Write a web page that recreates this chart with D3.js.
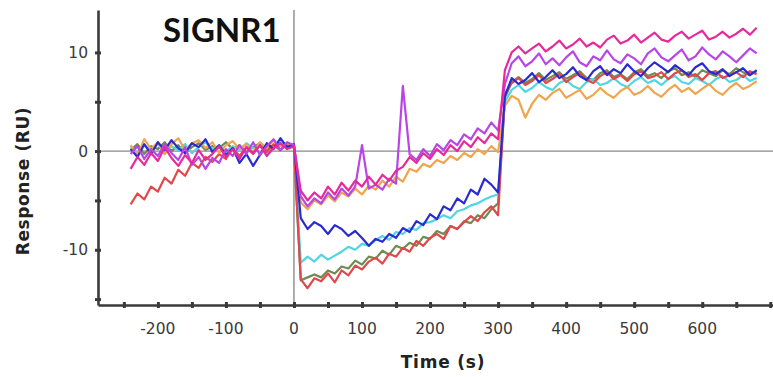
<!DOCTYPE html>
<html>
<head>
<meta charset="utf-8">
<script src="https://cdn.jsdelivr.net/npm/d3@7"></script>
<style>
  html, body { margin: 0; padding: 0; background: #fff; }
  svg { display: block; }
</style>
</head>
<body>
<svg id="chart" width="773" height="377"></svg>
<script>
// Sensorgram time base: -240 s to 680 s, every 10 s
const times = d3.range(-240, 681, 10);

// Response (RU) per curve: baseline (-240..0), association (10..300), dissociation (310..680)
const redBase = [-5.4, -4.3, -4.9, -3.6, -4.1, -2.7, -3.3, -1.9, -2.5, -1.2, -1.7, -0.6, -1.1, -0.3, -0.8, 0.3, -0.5, 0.4, -0.3, 0.6, -0.1, 0.7, 0.1, 0.8, 0.4];
const redAssoc = [-13.0, -13.9, -12.9, -13.2, -12.4, -13.3, -12.1, -12.6, -11.6, -12.0, -11.2, -10.8, -11.4, -10.4, -10.7, -9.8, -10.2, -9.1, -9.6, -8.8, -8.4, -8.9, -7.6, -7.9, -7.2, -6.6, -7.1, -6.2, -5.6, -6.5];
const redDiss = [5.8, 6.9, 7.4, 6.7, 7.1, 7.7, 6.9, 7.3, 7.8, 7.0, 7.5, 7.9, 7.2, 6.9, 7.6, 8.0, 7.3, 7.7, 7.1, 7.8, 8.1, 7.4, 7.6, 8.0, 7.3, 7.9, 8.2, 7.5, 7.8, 7.2, 7.9, 8.1, 7.4, 7.7, 8.0, 7.5, 8.1, 7.8];

const orangeBase = [0.6, -0.4, 1.2, 0.2, 0.9, -0.3, 0.7, 1.3, 0.1, 0.8, 1.1, 0.3, 0.9, -0.2, 0.6, 1.0, 0.2, 0.7, -0.1, 0.9, 0.3, 1.1, 0.5, 0.8, 0.6];
const orangeAssoc = [-5.2, -5.9, -5.0, -5.4, -4.5, -5.1, -4.2, -4.6, -3.8, -4.4, -3.5, -3.9, -3.0, -3.6, -2.6, -3.1, -1.8, -2.1, -1.3, -1.6, -0.9, -1.2, -0.5, -0.9, -0.2, -0.6, 0.2, -0.3, 0.5, -0.1];
const orangeDiss = [4.6, 5.6, 5.2, 3.4, 4.8, 5.7, 5.2, 5.9, 6.3, 5.4, 5.8, 6.2, 5.3, 5.7, 6.4, 5.8, 5.4, 6.1, 6.5, 5.7, 6.0, 6.6, 5.9, 5.5, 6.2, 6.7, 6.0, 6.4, 5.8, 6.3, 6.8, 6.1, 5.7, 6.4, 6.9, 6.3, 6.6, 7.1];

const pinkBase = [-1.8, -0.6, -1.4, -0.2, -1.0, 0.4, -0.7, -1.5, -0.4, -1.2, 0.1, -0.9, -0.3, 0.5, -0.6, 0.2, -0.8, 0.4, -0.2, 0.6, -0.5, 0.3, 0.8, 0.2, 0.5];
const pinkAssoc = [-4.0, -5.0, -4.2, -4.8, -3.6, -4.4, -3.2, -4.0, -3.0, -3.6, -2.6, -3.4, -2.4, -3.0, -2.0, -1.6, -0.6, -1.2, -0.2, -0.8, 0.2, -0.4, 0.6, 0.0, 1.0, 0.4, 1.4, 0.8, 1.8, 1.2];
const pinkDiss = [8.2, 10.0, 10.6, 9.9, 10.4, 10.9, 10.1, 10.6, 11.2, 10.4, 10.8, 11.4, 10.6, 11.0, 10.5, 11.3, 11.7, 10.9, 11.2, 11.8, 11.0, 11.5, 12.0, 11.3, 11.1, 11.7, 12.1, 11.4, 11.8, 12.2, 11.3, 11.6, 12.1, 11.5, 11.9, 12.4, 11.8, 12.5];

const violetBase = [-0.3, 0.5, -0.8, 0.2, -0.5, 0.7, -0.2, -0.9, 0.4, -1.4, -0.6, -1.8, -0.7, -1.2, 0.2, -0.5, 0.6, -0.3, 0.9, -0.4, 0.5, 1.2, 0.1, 0.9, 0.6];
const violetAssoc = [-4.6, -5.6, -4.8, -5.3, -4.2, -4.9, -3.8, -4.5, -3.6, 0.6, -3.8, -3.4, -3.9, -2.8, -3.3, 6.6, -0.3, -0.9, 0.2, -0.5, 0.7, 0.1, 1.1, 0.6, 1.7, 1.2, 2.3, 1.8, 2.9, 2.1];
const violetDiss = [6.8, 8.9, 9.6, 8.6, 9.1, 9.9, 8.8, 9.4, 8.7, 9.5, 10.1, 9.0, 8.6, 9.6, 9.2, 10.2, 9.3, 8.9, 9.8, 9.4, 8.8, 9.9, 10.4, 9.5, 9.1, 9.7, 10.3, 9.2, 9.6, 10.5, 9.8, 9.3, 10.1, 9.6, 9.0, 9.7, 10.4, 9.9];

const blueBase = [0.2, -0.6, 0.7, -0.3, 0.9, 0.1, 1.1, 0.3, -0.2, 0.8, 0.4, 1.2, -0.1, 0.6, -0.4, 0.3, -1.2, -0.3, -1.5, -0.4, 0.8, 0.2, 1.3, 0.4, 0.7];
const blueAssoc = [-6.8, -7.9, -7.2, -7.6, -8.4, -7.5, -7.9, -8.6, -8.1, -8.8, -9.6, -8.9, -9.2, -8.4, -8.8, -7.8, -8.2, -7.1, -7.5, -6.4, -6.9, -5.6, -6.0, -4.8, -5.3, -3.9, -4.4, -2.8, -3.4, -4.2];
const blueDiss = [5.6, 7.4, 6.8, 7.2, 7.9, 7.0, 7.5, 8.2, 7.4, 7.8, 8.5, 7.6, 7.2, 8.1, 8.6, 7.7, 8.3, 7.9, 8.8, 8.1, 7.6, 8.4, 9.0, 8.5, 8.0, 8.7, 8.2, 7.7, 8.5, 8.9, 8.1, 7.8, 8.3, 7.6, 8.0, 8.4, 7.7, 8.2];

const cyanBase = [0.4, -0.2, 0.6, 0.0, 0.8, -0.3, 0.5, 0.1, 0.7, -0.2, 0.4, 0.9, 0.2, 0.6, -0.1, 0.5, 0.1, 0.8, 0.3, 0.6, -0.2, 0.4, 0.9, 0.3, 0.5];
const cyanAssoc = [-11.3, -10.7, -11.2, -10.5, -11.0, -10.6, -10.2, -9.7, -10.0, -9.4, -9.6, -9.0, -8.6, -9.0, -8.2, -8.4, -7.8, -8.0, -7.3, -7.2, -6.9, -6.5, -6.8, -6.1, -5.9, -5.5, -5.3, -4.9, -4.6, -4.4];
const cyanDiss = [5.0, 6.2, 6.7, 6.0, 6.4, 7.0, 6.5, 6.2, 6.9, 7.2, 6.6, 6.3, 7.0, 7.3, 6.7, 6.9, 7.4, 6.8, 6.5, 7.1, 7.5, 6.9, 7.2, 6.7, 7.3, 7.6, 7.0, 6.8, 7.4, 7.1, 6.7, 7.3, 7.6, 7.0, 7.2, 7.7, 7.1, 7.4];

const greenBase = [0.1, 0.7, -0.3, 0.5, 0.2, 0.9, 0.0, 0.6, -0.2, 0.4, 0.8, 0.1, 0.5, 0.3, 0.9, 0.2, 0.6, -0.1, 0.4, 0.8, 0.2, 0.6, 0.1, 0.7, 0.3];
const greenAssoc = [-13.1, -12.8, -12.5, -12.8, -12.1, -12.4, -11.7, -11.9, -11.1, -11.5, -10.7, -10.9, -10.1, -10.5, -9.6, -9.9, -9.3, -9.6, -8.7, -8.9, -8.1, -8.4, -7.6, -7.9, -7.1, -7.3, -6.5, -6.8, -5.9, -5.3];
const greenDiss = [5.4, 7.0, 7.5, 6.9, 7.3, 7.9, 7.2, 7.6, 8.0, 7.3, 7.7, 8.1, 7.4, 7.2, 7.9, 8.2, 7.5, 7.8, 7.3, 8.0, 8.3, 7.6, 7.9, 7.4, 8.1, 8.4, 7.7, 8.0, 7.5, 8.2, 7.9, 7.6, 8.2, 7.8, 8.4, 8.0, 7.7, 8.1];

// Tick values
const xTickLabels = [-200, -100, 0, 100, 200, 300, 400, 500, 600];
const xMinorTicks = [-250, -200, -150, -100, -50, 0, 50, 100, 150, 200, 250, 300, 350, 400, 450, 500, 550, 600, 650, 700];
const yTickLabels = [10, 0, -10];
const yMinorTicks = [10, 5, 0, -5, -10, -15];

const titleText = "SIGNR1";
const xTitle = "Time (s)";
const yTitle = "Response (RU)";

// Curves in drawing order (last on top)
const curves = [
  { name: "green",  color: "#6f8a52", values: [...greenBase, ...greenAssoc, ...greenDiss] },
  { name: "cyan",   color: "#4fd6e0", values: [...cyanBase, ...cyanAssoc, ...cyanDiss] },
  { name: "red",    color: "#e2474a", values: [...redBase, ...redAssoc, ...redDiss] },
  { name: "orange", color: "#f0a54c", values: [...orangeBase, ...orangeAssoc, ...orangeDiss] },
  { name: "blue",   color: "#2a2ad2", values: [...blueBase, ...blueAssoc, ...blueDiss] },
  { name: "violet", color: "#b845e6", values: [...violetBase, ...violetAssoc, ...violetDiss] },
  { name: "pink",   color: "#e62a9c", values: [...pinkBase, ...pinkAssoc, ...pinkDiss] }
];

const svg = d3.select("#chart");
const x = d3.scaleLinear().domain([-288, 704]).range([98, 773]);
const y = d3.scaleLinear().domain([-15.6, 14.3]).range([305, 10]);

const axisColor = "#3a3a3a";
const tickFont = "'DejaVu Sans', Verdana, sans-serif";

// Reference lines at t = 0 and response = 0
svg.append("line")
  .attr("x1", x(0)).attr("x2", x(0))
  .attr("y1", y(14.3)).attr("y2", y(-15.6))
  .attr("stroke", "#9a9a9a").attr("stroke-width", 1.6);
svg.append("line")
  .attr("x1", x(-288)).attr("x2", x(704))
  .attr("y1", y(0)).attr("y2", y(0))
  .attr("stroke", "#8a8a8a").attr("stroke-width", 1.4);

// Curves
const line = d3.line()
  .x((d, i) => x(times[i]))
  .y(d => y(d));

svg.append("g")
  .selectAll("path")
  .data(curves)
  .join("path")
  .attr("fill", "none")
  .attr("stroke", d => d.color)
  .attr("stroke-width", 2.2)
  .attr("stroke-linejoin", "round")
  .attr("d", d => line(d.values));

// Axes
const xAxis = svg.append("g")
  .attr("transform", `translate(0,${y(-15.6)})`)
  .call(d3.axisBottom(x).tickValues(xMinorTicks).tickSize(3).tickSizeOuter(0).tickFormat(""));
const yAxis = svg.append("g")
  .attr("transform", `translate(${x(-288)},0)`)
  .call(d3.axisLeft(y).tickValues(yMinorTicks).tickSize(3).tickSizeOuter(0).tickFormat(""));

[xAxis, yAxis].forEach(g => {
  g.select(".domain").attr("stroke", axisColor).attr("stroke-width", 2.6);
  g.selectAll(".tick line").attr("stroke", axisColor).attr("stroke-width", 3);
});
xAxis.selectAll(".tick line").attr("y1", -3);
yAxis.selectAll(".tick line").attr("x1", 3);

// Tick labels
svg.append("g")
  .selectAll("text")
  .data(xTickLabels)
  .join("text")
  .attr("x", d => x(d))
  .attr("y", 334)
  .attr("text-anchor", "middle")
  .attr("font-family", tickFont)
  .attr("font-size", 15.5)
  .attr("fill", "#3a3a3a")
  .text(d => d);

svg.append("g")
  .selectAll("text")
  .data(yTickLabels)
  .join("text")
  .attr("x", 88)
  .attr("y", d => y(d) + 5.5)
  .attr("text-anchor", "end")
  .attr("font-family", tickFont)
  .attr("font-size", 15.5)
  .attr("fill", "#3a3a3a")
  .text(d => d);

// Titles
svg.append("text")
  .attr("x", 163).attr("y", 42)
  .attr("font-family", "Lato, 'Open Sans', sans-serif")
  .attr("font-weight", "bold")
  .attr("font-size", 33)
  .attr("fill", "#111")
  .text(titleText);

svg.append("text")
  .attr("x", 443).attr("y", 368)
  .attr("text-anchor", "middle")
  .attr("font-family", tickFont)
  .attr("font-weight", "bold")
  .attr("font-size", 17)
  .attr("letter-spacing", 0.8)
  .attr("fill", "#222")
  .text(xTitle);

svg.append("text")
  .attr("transform", "translate(29,181) rotate(-90)")
  .attr("text-anchor", "middle")
  .attr("font-family", tickFont)
  .attr("font-weight", "bold")
  .attr("font-size", 17)
  .attr("letter-spacing", 0.6)
  .attr("fill", "#222")
  .text(yTitle);
</script>
</body>
</html>
